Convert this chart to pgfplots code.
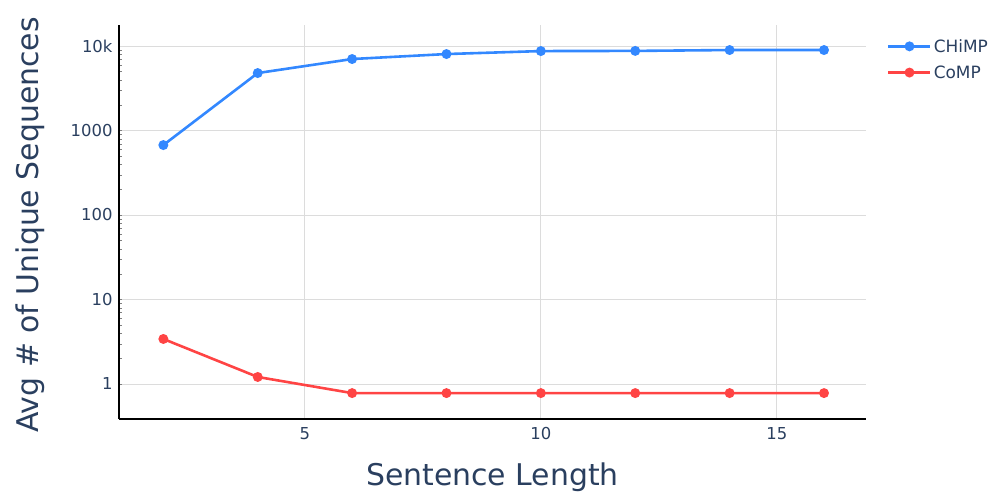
\documentclass[border=0pt]{standalone}
\usepackage{pgfplots}
\pgfplotsset{compat=1.18}
\usepackage{fontspec}
\setmainfont{DejaVu Sans}
\definecolor{txt}{HTML}{2A3F5F}
\definecolor{chimp}{HTML}{3388FF}
\definecolor{comp}{HTML}{FF4444}
\definecolor{gridc}{HTML}{DCDCDC}
\begin{document}
\begin{tikzpicture}
\useasboundingbox (-119bp,-73bp) rectangle (878bp,419bp);
\begin{axis}[
  at={(0,0)}, anchor=south west,
  scale only axis, width=747bp, height=394bp,
  ymode=log, xmin=1.06, xmax=16.89, ymin=0.385, ymax=17750,
  axis x line*=bottom, axis y line*=left,
  axis line style={black, line width=1.2bp, -},
  xtick={5,10,15}, ytick={1,10,100,1000,10000},
  yticklabels={1,10,100,1000,10k},
  log ticks with fixed point,
  major tick length=0pt,
  grid=major, major grid style={gridc, line width=0.9bp},
  tick label style={font=\fontsize{16.5}{19}\selectfont, text=txt},
  /pgf/number format/assume math mode=true,
  xticklabel style={yshift=-5bp},
  yticklabel style={xshift=-3bp},
  xlabel={Sentence Length}, ylabel={Avg \# of Unique Sequences},
  label style={font=\fontsize{30}{36}\selectfont, text=txt},
  xlabel style={at={(axis description cs:0.5,0)}, anchor=base, yshift=-66bp},
  ylabel style={at={(axis description cs:0,0.5)}, anchor=center, rotate=0, xshift=-3bp, yshift=89bp},
  legend style={at={(rel axis cs:1,1)}, anchor=north west, xshift=18bp, yshift=-10bp,
    draw=none, fill=none, font=\fontsize{17}{19}\selectfont, text=txt,
    row sep=8bp, cells={anchor=west}},
  legend image code/.code={\draw[mark repeat=2,mark phase=2] plot coordinates {(0bp,0bp)(21bp,0bp)(42bp,0bp)};},
]
\addplot[chimp, line width=2.6bp, mark=*, mark size=3.6bp] coordinates {
(2,673) (4,4790) (6,7020) (8,8040) (10,8720) (12,8760) (14,8970) (16,8970)};
\addlegendentry[xshift=4bp]{CHiMP}
\addplot[comp, line width=2.6bp, mark=*, mark size=3.6bp] coordinates {
(2,3.41) (4,1.21) (6,0.78) (8,0.78) (10,0.78) (12,0.78) (14,0.78) (16,0.78)};
\addlegendentry[xshift=4bp]{CoMP}
\end{axis}
\end{tikzpicture}
\end{document}
